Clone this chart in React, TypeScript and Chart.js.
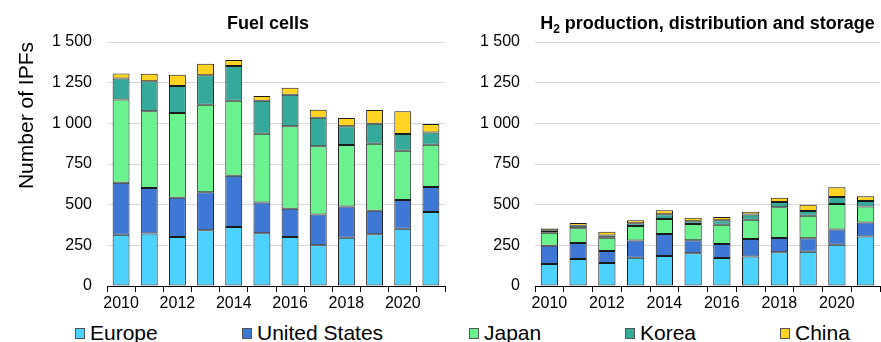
import React, { useEffect, useRef } from "react";
import { Chart, registerables } from "chart.js";

Chart.register(...registerables);

const years = ["2010", "2011", "2012", "2013", "2014", "2015", "2016", "2017", "2018", "2019", "2020", "2021"];
const yTicks = [0, 250, 500, 750, 1000, 1250, 1500];

const seriesNames = ["Europe", "United States", "Japan", "Korea", "China"];
const seriesColors = ["#4dd2ff", "#3f77d4", "#6af28f", "#36aa9a", "#ffd321"];

// Fuel cells
const fcEurope = [315, 322, 301, 342, 363, 324, 301, 250, 297, 318, 352, 455];
const fcUS = [320, 280, 242, 234, 315, 190, 174, 189, 191, 145, 177, 154];
const fcJapan = [512, 472, 521, 539, 461, 422, 507, 420, 379, 412, 303, 260];
const fcKorea = [128, 184, 166, 180, 213, 203, 194, 176, 115, 123, 102, 74];
const fcChina = [32, 47, 68, 72, 37, 29, 43, 49, 51, 84, 140, 53];

// H2 production, distribution and storage
const h2Europe = [135, 166, 141, 174, 184, 201, 172, 182, 207, 211, 254, 305];
const h2US = [113, 98, 74, 105, 136, 80, 86, 107, 88, 82, 94, 86];
const h2Japan = [80, 91, 82, 90, 92, 100, 119, 119, 189, 139, 156, 97];
const h2Korea = [12, 16, 14, 16, 29, 17, 27, 31, 32, 29, 43, 35];
const h2China = [14, 16, 23, 19, 24, 22, 20, 18, 27, 39, 60, 28];

const FONT = '"Liberation Sans", Arial, sans-serif';

const fmt = (v: number) => String(v).replace(/\B(?=(\d{3})+(?!\d))/g, " ");

const titlePlugin = {
  id: "panelTitle",
  afterDraw(chart: any, _args: any, opts: any) {
    const ctx = chart.ctx;
    const area = chart.chartArea;
    const cx = (area.left + area.right) / 2 + (opts.dx || 0);
    const y = opts.y;
    const parts: { t: string; size: number; dy: number }[] = opts.parts;
    ctx.save();
    ctx.fillStyle = "#000";
    ctx.textBaseline = "alphabetic";
    ctx.textAlign = "left";
    let total = 0;
    const widths = parts.map((p) => {
      ctx.font = `bold ${p.size}px ${FONT}`;
      const w = ctx.measureText(p.t).width;
      total += w;
      return w;
    });
    let x = cx - total / 2;
    parts.forEach((p, i) => {
      ctx.font = `bold ${p.size}px ${FONT}`;
      ctx.fillText(p.t, x, y + p.dy);
      x += widths[i];
    });
    ctx.restore();
  },
};

function buildConfig(data: number[][], parts: any[], dx: number, yWidth: number, showTitle: boolean, padRight: number): any {
  return {
    type: "bar",
    data: {
      labels: years,
      datasets: data.map((d, i) => ({
        label: seriesNames[i],
        data: d,
        backgroundColor: seriesColors[i],
        borderColor: "#1a1a1a",
        borderWidth: 1,
        borderSkipped: false,
        categoryPercentage: 1,
        barPercentage: 0.6,
      })),
    },
    plugins: [titlePlugin],
    options: {
      responsive: false,
      animation: false,
      layout: { padding: { top: 42, left: 0, right: padRight, bottom: 0 } },
      plugins: {
        legend: { display: false },
        tooltip: { enabled: false },
        panelTitle: { parts, dx, y: 29 },
      },
      scales: {
        x: {
          stacked: true,
          afterFit: (s: any) => {
            s.height = 26;
          },
          grid: {
            display: true,
            drawOnChartArea: false,
            drawTicks: true,
            tickLength: 6,
            color: "#000",
            offset: true,
          },
          border: { display: true, color: "#000", width: 1 },
          ticks: {
            autoSkip: false,
            maxRotation: 0,
            padding: 2,
            color: "#000",
            font: { family: FONT, size: 16 },
            callback: (_v: any, i: number) => (i % 2 === 0 ? years[i] : ""),
          },
        },
        y: {
          stacked: true,
          min: 0,
          max: 1500,
          afterFit: (s: any) => {
            s.width = yWidth;
          },
          afterBuildTicks: (s: any) => {
            s.ticks = yTicks.map((v) => ({ value: v }));
          },
          grid: { color: "#d9d9d9", lineWidth: 1, drawTicks: false },
          border: { display: false },
          ticks: {
            padding: 15,
            color: "#000",
            font: { family: FONT, size: 16 },
            callback: (v: any) => fmt(Number(v)),
          },
          title: {
            display: showTitle,
            text: "Number of IPFs",
            align: "end",
            color: "#000",
            font: { family: FONT, size: 21 },
            padding: { top: 15, bottom: 0 },
          },
        },
      },
    },
  };
}

function Panel(props: { config: any; left: number; width: number }) {
  const ref = useRef<HTMLCanvasElement | null>(null);
  useEffect(() => {
    if (!ref.current) return;
    const c = new Chart(ref.current, props.config);
    return () => c.destroy();
  }, []);
  return (
    <canvas
      ref={ref}
      width={props.width}
      height={312}
      style={{ position: "absolute", left: props.left, top: 0, width: props.width, height: 312 }}
    />
  );
}

const legendPos = [75, 242, 469, 625, 780];

export default function App() {
  const fcConfig = buildConfig(
    [fcEurope, fcUS, fcJapan, fcKorea, fcChina],
    [{ t: "Fuel cells", size: 18, dy: 0 }],
    -8,
    107,
    true,
    10
  );
  const h2Config = buildConfig(
    [h2Europe, h2US, h2Japan, h2Korea, h2China],
    [
      { t: "H", size: 18, dy: 0 },
      { t: "2", size: 12, dy: 4 },
      { t: " production, distribution and storage", size: 18, dy: 0 },
    ],
    0,
    80,
    false,
    1
  );
  return (
    <div
      style={{
        position: "absolute",
        left: 0,
        top: 0,
        width: 881,
        height: 342,
        overflow: "hidden",
        background: "#fff",
        fontFamily: FONT,
      }}
    >
      <Panel config={fcConfig} left={0} width={455} />
      <Panel config={h2Config} left={455} width={426} />
      {seriesNames.map((n, i) => (
        <div key={n} style={{ position: "absolute", left: legendPos[i], top: 322, height: 22 }}>
          <span
            style={{
              position: "absolute",
              left: 0,
              top: 6,
              width: 8,
              height: 9,
              background: seriesColors[i],
              border: "1px solid #555",
            }}
          />
          <span
            style={{
              position: "absolute",
              left: 15,
              top: 0,
              fontSize: 21,
              lineHeight: "22px",
              whiteSpace: "nowrap",
              color: "#000",
            }}
          >
            {n}
          </span>
        </div>
      ))}
    </div>
  );
}
